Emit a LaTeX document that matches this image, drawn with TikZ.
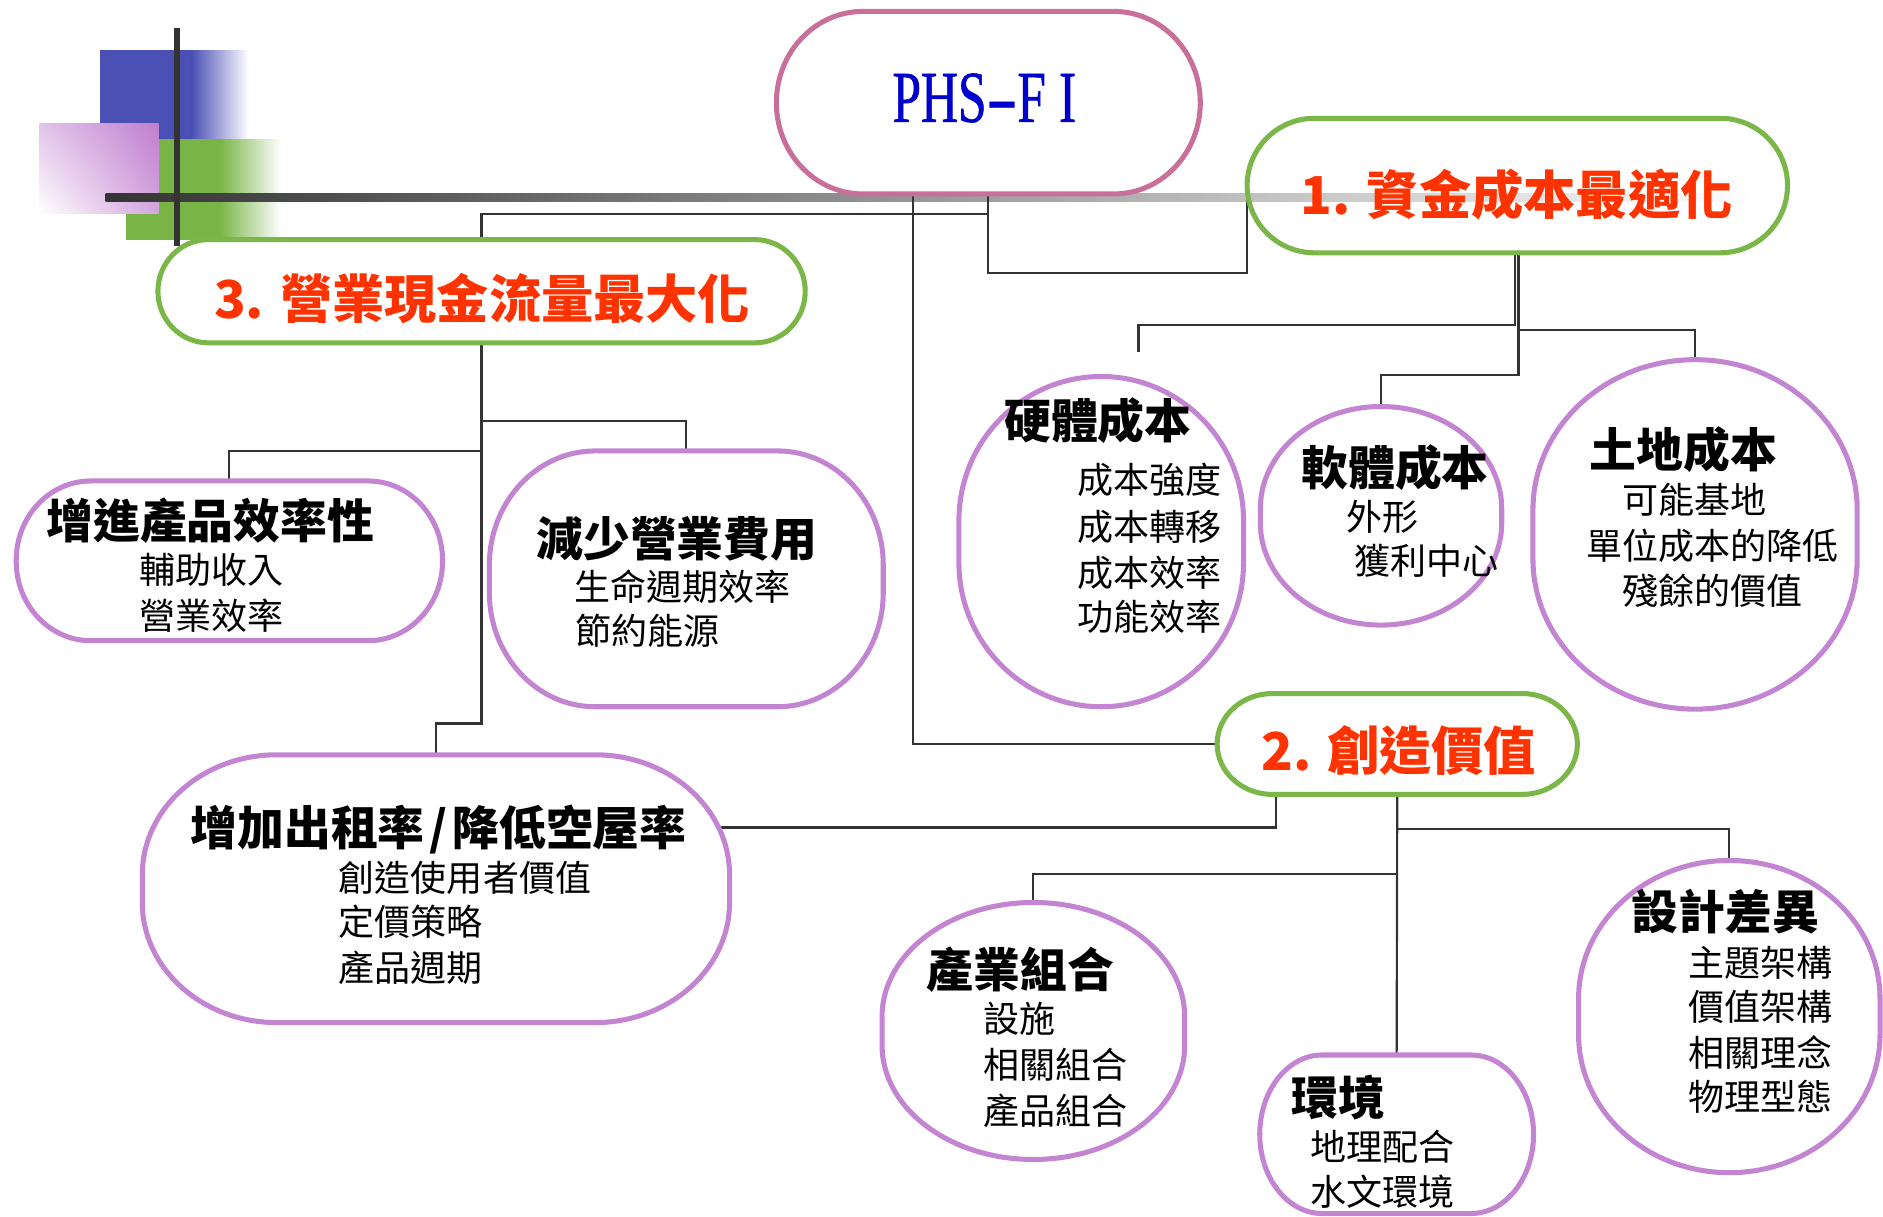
\documentclass[tikz,border=0pt]{standalone}
\usepackage{fontspec}
\usetikzlibrary{shadings}
\newfontfamily\cjk{Noto Sans CJK TC}
\newfontfamily\phsfont[FakeStretch=0.7,FakeBold=0.8]{Liberation Serif}
\definecolor{phspink}{HTML}{C8709A}
\definecolor{grn}{HTML}{7AB648}
\definecolor{purp}{HTML}{C385D2}
\definecolor{hred}{HTML}{FF3300}
\definecolor{phsblue}{HTML}{0000CC}
\definecolor{linegray}{HTML}{333333}
\definecolor{decoblue}{HTML}{4B50B4}
\definecolor{decogreen}{HTML}{78B446}
\definecolor{decopink}{HTML}{C07ECE}
\definecolor{pinkA}{HTML}{E2C4EA}
\definecolor{pinkB}{HTML}{D4A6DE}
% #1 node name, #2 rx, #3 ry, #4 colour
\newcommand\shapeline[4]{%
  \draw[line width=4.2pt,#4] ([xshift=#2]#1.north west) -- ([xshift=-#2]#1.north east)
    arc[start angle=90,end angle=0,x radius=#2,y radius=#3]
    -- ([yshift=#3]#1.south east)
    arc[start angle=0,end angle=-90,x radius=#2,y radius=#3]
    -- ([xshift=#2]#1.south west)
    arc[start angle=-90,end angle=-180,x radius=#2,y radius=#3]
    -- ([yshift=-#3]#1.north west)
    arc[start angle=180,end angle=90,x radius=#2,y radius=#3] -- cycle;}
\begin{document}
\begin{tikzpicture}[x=1pt,y=-1pt,
  box/.style={rectangle,draw=none,inner sep=0pt,outer sep=0pt},
  conn/.style={draw=linegray,line width=1.8pt},
  ttl/.style={font=\cjk\bfseries\fontsize{39}{39}\selectfont,inner sep=0pt,anchor=base west},
  sub/.style={font=\cjk\fontsize{30}{30}\selectfont,inner sep=0pt,anchor=base west},
  head/.style={font=\cjk\bfseries\fontsize{43.5}{44}\selectfont,text=hred,inner sep=0pt,anchor=base west}]
\fill[white] (0,0) rectangle (1568,1013);
\useasboundingbox (0,0) rectangle (1568,1013);

% decoration
\fill[decoblue] (83,42) rectangle (160,118);
\shade[left color=decoblue,right color=white] (159.5,42) rectangle (207,118);
\fill[decogreen] (105,116) rectangle (183,200);
\shade[left color=decogreen,right color=white] (182.5,116) rectangle (234,200);
\shade[upper left=pinkA,upper right=decopink,lower left=white,lower right=pinkB] (33,103) rectangle (132,178);
\shade[left color=linegray,right color=white] (88,161.5) rectangle (1465,168);
\fill[linegray] (145,23) rectangle (149.5,205);

% shape nodes
\node[box,minimum width=353pt,minimum height=152pt] (phs) at (823,85.5) {};
\node[box,minimum width=450pt,minimum height=112pt] (n1) at (1263.5,154.5) {};
\node[box,minimum width=539pt,minimum height=86pt] (n3) at (401,242.5) {};
\node[box,minimum width=300pt,minimum height=84pt] (n2) at (1163.5,619.5) {};
\node[box,minimum width=355pt,minimum height=133pt] (a1) at (191,467) {};
\node[box,minimum width=328pt,minimum height=213pt] (a2) at (571.5,482) {};
\node[box,minimum width=489pt,minimum height=223pt] (a3) at (363,740) {};
\node[box,minimum width=237pt,minimum height=275pt] (b1) at (917,451) {};
\node[box,minimum width=201pt,minimum height=182pt] (b2) at (1150,429.5) {};
\node[box,minimum width=270pt,minimum height=291pt] (b3) at (1411.5,445) {};
\node[box,minimum width=252pt,minimum height=214pt] (c1) at (860.5,858.5) {};
\node[box,minimum width=228pt,minimum height=132pt] (c2) at (1163,944.5) {};
\node[box,minimum width=251pt,minimum height=260pt] (c3) at (1440,846.5) {};

% connectors
\draw[conn] (phs.south) -- ++(0,17) -| (n3.north);
\draw[conn] (phs.south) -- ++(0,66) -| (n1.west);
\draw[conn] ([xshift=-63pt]phs.south) |- (n2.west);
\draw[conn] (n3.south) -- ++(0,90) -| (a1.north);
\draw[conn] (n3.south) -- ++(0,65) -| (a2.north);
\draw[conn] (n3.south) -- ++(0,317) -| (a3.north);
\coordinate (b1top) at (948,293);
\draw[conn] ([xshift=-2pt]n1.south) -- ++(0,60) -| (b1top);
\draw[conn] ([xshift=1pt]n1.south) -- ++(0,102) -| (b2.north);
\draw[conn] ([xshift=1pt]n1.south) -- ++(0,64) -| (b3.north);
\coordinate (a3r) at (597,689);
\draw[conn] ([xshift=-101pt]n2.south) |- (a3r);
\draw[conn] (n2.south) -- ++(0,66) -| (c1.north);
\draw[conn] (n2.south) -- ++(0,29) -| (c3.north);
\draw[conn] (n2.south) -- (c2.north);

% outlines
\shapeline{phs}{72pt}{76pt}{phspink}
\shapeline{n1}{56pt}{56pt}{grn}
\shapeline{n3}{42pt}{43pt}{grn}
\shapeline{n2}{46pt}{42pt}{grn}
\shapeline{a1}{62pt}{66pt}{purp}
\shapeline{a2}{88pt}{95pt}{purp}
\shapeline{a3}{112pt}{100pt}{purp}
\shapeline{b1}{118.5pt}{120pt}{purp}
\shapeline{b2}{100.5pt}{85pt}{purp}
\shapeline{b3}{135pt}{125pt}{purp}
\shapeline{c1}{126pt}{95pt}{purp}
\shapeline{c2}{52pt}{66pt}{purp}
\shapeline{c3}{125.5pt}{115pt}{purp}

% texts
\node[font=\phsfont\fontsize{61}{61}\selectfont,text=phsblue,inner sep=0pt,anchor=base west] (phsT) at (743,101.5) {PHS\scalebox{1.8}[1]{-}F\hspace{11pt}I};
\node[head] (n1T) at (1083,179) {1. 資金成本最適化};
\node[head] (n3T) at (178,265) {3. 營業現金流量最大化};
\node[head] (n2T) at (1050,642) {2. 創造價值};

\node[ttl] (a1T) at (38.4,448) {增進產品效率性};
\node[sub] (a1s1) at (116,486) {輔助收入};
\node[sub] (a1s2) at (116,524) {營業效率};

\node[ttl] (a2T) at (446.5,463) {減少營業費用};
\node[sub] (a2s1) at (478,500) {生命週期效率};
\node[sub] (a2s2) at (479,537) {節約能源};

\node[ttl] (a3T) at (158.5,704) {增加出租率\kern4pt/\kern4pt降低空屋率};
\node[sub] (a3s1) at (282,742) {創造使用者價值};
\node[sub] (a3s2) at (282,779) {定價策略};
\node[sub] (a3s3) at (282,817) {產品週期};

\node[ttl] (b1T) at (836,365) {硬體成本};
\node[sub] (b1s1) at (897,411) {成本強度};
\node[sub] (b1s2) at (897,450) {成本轉移};
\node[sub] (b1s3) at (897,488) {成本效率};
\node[sub] (b1s4) at (897,525) {功能效率};

\node[ttl] (b2T) at (1083.5,404) {軟體成本};
\node[sub] (b2s1) at (1121,442) {外形};
\node[sub] (b2s2) at (1128,478) {獲利中心};

\node[ttl] (b3T) at (1323.5,389) {土地成本};
\node[sub] (b3s1) at (1351,428) {可能基地};
\node[sub] (b3s2) at (1321,466) {單位成本的降低};
\node[sub] (b3s3) at (1351,503) {殘餘的價值};

\node[ttl] (c1T) at (771.5,822) {產業組合};
\node[sub] (c1s1) at (819,860) {設施};
\node[sub] (c1s2) at (819,898) {相關組合};
\node[sub] (c1s3) at (819,936) {產品組合};

\node[ttl] (c2T) at (1075.5,929) {環境};
\node[sub] (c2s1) at (1091,966) {地理配合};
\node[sub] (c2s2) at (1091,1004) {水文環境};

\node[ttl] (c3T) at (1358.5,774) {設計差異};
\node[sub] (c3s1) at (1406,813) {主題架構};
\node[sub] (c3s2) at (1406,850) {價值架構};
\node[sub] (c3s3) at (1406,888) {相關理念};
\node[sub] (c3s4) at (1406,925) {物理型態};
\end{tikzpicture}
\end{document}
